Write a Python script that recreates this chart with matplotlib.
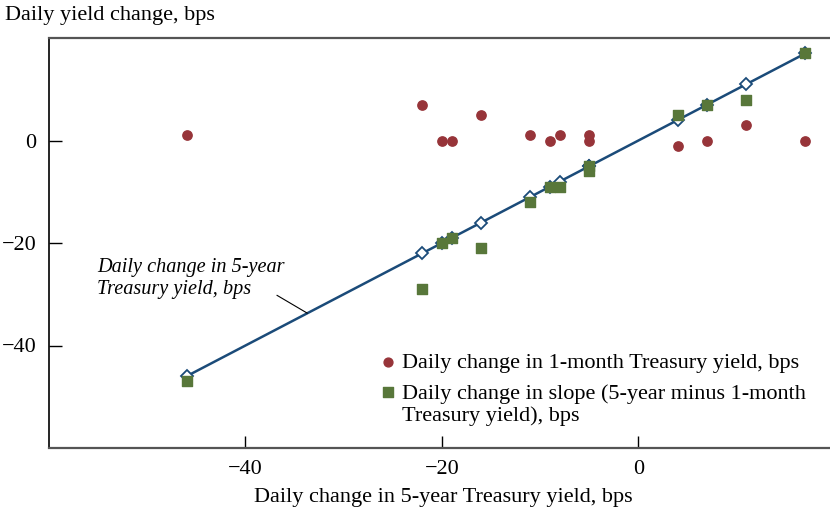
import matplotlib
matplotlib.use('Agg')
import matplotlib.pyplot as plt
from matplotlib.legend_handler import HandlerPathCollection

plt.rcParams['font.family'] = ['Liberation Serif', 'DejaVu Serif']

# daily changes, bps
five_year = [-46, -22, -20, -19, -16, -11, -9, -8, -5, -5, 4, 7, 11, 17]
one_month = [1, 7, 0, 0, 5, 1, 0, 1, 1, 0, -1, 0, 3, 0]
slope = [f - o for f, o in zip(five_year, one_month)]

x_ticks = [-40, -20, 0]
y_ticks = [-40, -20, 0]

blue = '#1b4b79'
red = '#973439'
green = '#58773a'


# legend marker sits on the first line of a two-line label
class FirstLineHandler(HandlerPathCollection):
    def get_ydata(self, legend, xdescent, ydescent, width, height, fontsize):
        ydata = super().get_ydata(legend, xdescent, ydescent, width, height, fontsize)
        return ydata + 0.62 * fontsize


fig = plt.figure(figsize=(8.3, 5.13), dpi=100)
ax = fig.add_axes([49 / 830, 1 - 448 / 513, 1 - 49 / 830, 410 / 513])

# 5-year change against itself (45-degree line)
ax.plot(five_year, five_year, color=blue, lw=1.8, marker='D', markersize=6.3,
        markerfacecolor='white', markeredgecolor=blue, markeredgewidth=1.3, zorder=2)
sq = ax.scatter(five_year, slope, marker='s', s=55, color=green, zorder=3,
                label='Daily change in slope (5-year minus 1-month\nTreasury yield), bps')
dots = ax.scatter(five_year, one_month, marker='o', s=45, color=red, zorder=4,
                  label='Daily change in 1-month Treasury yield, bps')

ax.text(-55.1, -27.0, 'Daily change in 5-year\nTreasury yield, bps', fontsize=14.6,
        style='italic', ha='left', va='center', linespacing=1.2)
ax.annotate('', xy=(-33.7, -33.7), xytext=(-36.8, -30.2),
            arrowprops=dict(arrowstyle='-', color='black', lw=0.8, shrinkA=0, shrinkB=0))

ax.set_xlim(-60, 19.5)
ax.set_ylim(-60, 20)
ax.set_xticks(x_ticks)
ax.set_yticks(y_ticks)
ax.tick_params(direction='in', length=9, width=1, labelsize=16, pad=9)

for s in ['top', 'bottom']:
    ax.spines[s].set_color('#555555')
    ax.spines[s].set_linewidth(1.6)
ax.spines['left'].set_color('black')
ax.spines['left'].set_linewidth(1.2)
ax.spines['right'].set_visible(False)

ax.legend([dots, sq], [dots.get_label(), sq.get_label()], loc='lower left',
          bbox_to_anchor=(0.404, 0.026), frameon=False, fontsize=16, handletextpad=0.1,
          borderpad=0, labelspacing=0.5, handlelength=1.1, markerscale=0.95,
          handler_map={sq: FirstLineHandler()})

fig.text(0.006, 0.97, 'Daily yield change, bps', fontsize=16, va='center', ha='left')
fig.text(0.534, 0.031, 'Daily change in 5-year Treasury yield, bps', fontsize=16,
         va='center', ha='center')

fig.savefig('out.png', dpi=100)
